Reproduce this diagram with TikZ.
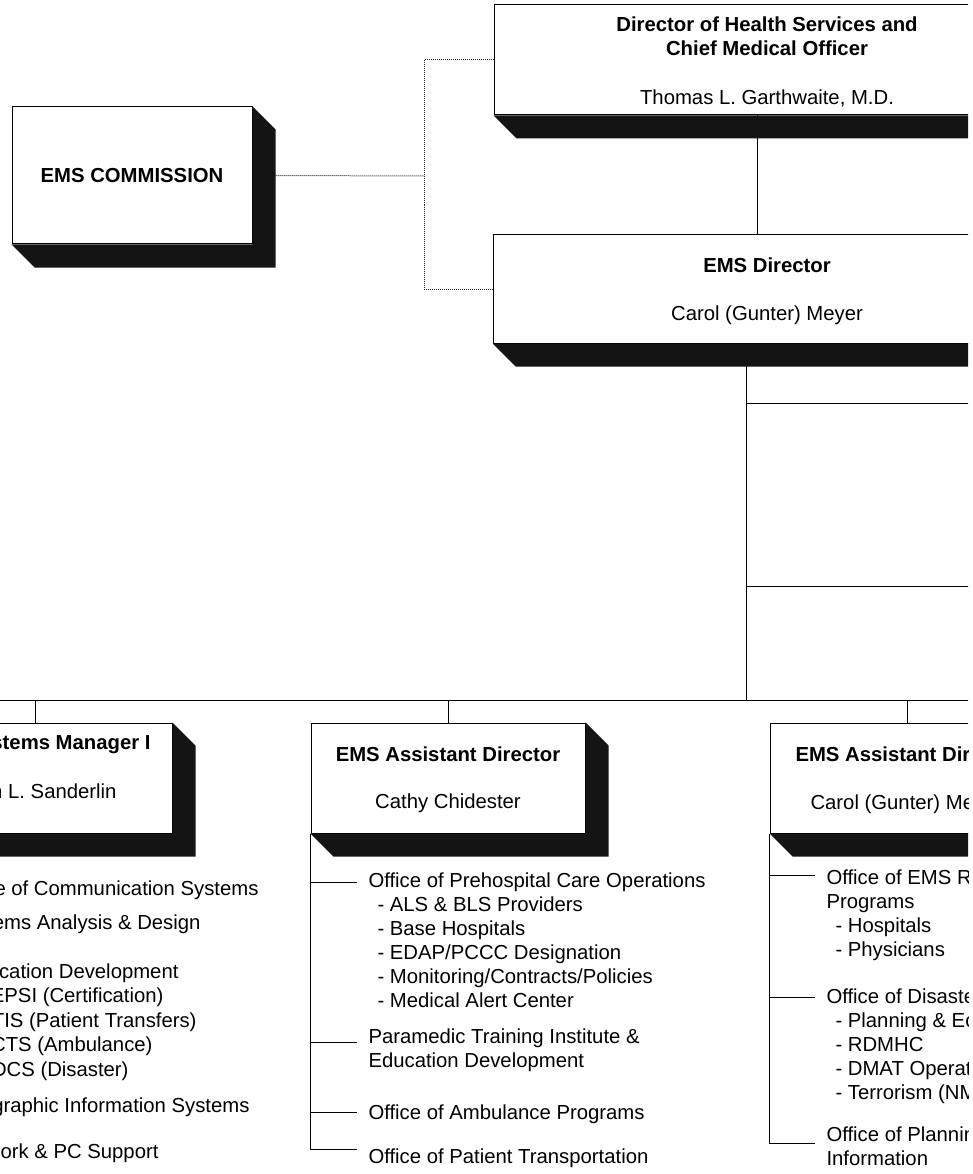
\documentclass[tikz,border=0pt]{standalone}
\usepackage{fontspec}
\setmainfont{Liberation Sans}
\tikzset{every node/.style={inner sep=0pt, font=\fontsize{20.3}{24}\selectfont}}
\tikzset{orgbox/.style={draw, line width=1pt, fill=white, align=center, minimum width=274pt, minimum height=110pt}}
\tikzset{duty/.style={align=left, anchor=north west}}
\tikzset{dotlink/.style={densely dotted, line width=1pt, black!85}}
\tikzset{boxshadow/.style={fill=black!92}}
\newcommand{\dropshadow}[1]{\fill[boxshadow] (#1.south west) -- ++(23,23) -- ([shift={(23,23)}]#1.south east) -- ([shift={(23,23)}]#1.north east) -- (#1.north east) -- (#1.south east) -- cycle;}
\newcommand{\subline}{\hspace*{9pt}- }
\newcommand{\lift}{\rule{0pt}{19pt}}

\begin{document}
\begin{tikzpicture}[x=1pt, y=-1pt, line width=1pt]
\useasboundingbox (0,0) rectangle (972,1174);
\clip (0,0) rectangle (968,1174);

\node[orgbox, minimum width=240pt, minimum height=137pt] (comm) at (132,175.5) {\textbf{EMS COMMISSION}};
\node[orgbox, minimum width=546pt] (dhs) at (767,60) {\lift\textbf{Director of Health Services and}\\\textbf{Chief Medical Officer}\\[25pt]Thomas L. Garthwaite, M.D.};
\node[orgbox, minimum width=548pt, minimum height=108pt] (emsd) at (767,289) {\lift\textbf{EMS Director}\\[24pt]Carol (Gunter) Meyer};
\node[orgbox] (sm) at (35,778) {};
\node[orgbox] (ad1) at (448,778) {\lift\textbf{EMS Assistant Director}\\[23pt]Cathy Chidester};
\node[orgbox] (ad2) at (907,778) {};

\node[anchor=base east] (smtitle) at (151,749) {\textbf{stems Manager I}};
\node[anchor=base east] (smname) at (117,798) {n L. Sanderlin};
\node[anchor=base west] (ad2title) at (795,761) {\textbf{EMS Assistant Dir}};
\node[anchor=base west] (ad2name) at (810,809) {Carol (Gunter) Me};

\node[anchor=base east] (comms) at (259,895) {e of Communication Systems};
\node[anchor=base east] (design) at (201,929) {ems Analysis \& Design};
\node[anchor=base east] (appdev) at (179,978) {cation Development};
\node[anchor=base east] (epsi) at (164,1002) {EPSI (Certification)};
\node[anchor=base east] (tis) at (197,1027) {TIS (Patient Transfers)};
\node[anchor=base east] (cts) at (153,1051) {CTS (Ambulance)};
\node[anchor=base east] (dcs) at (129,1076) {DCS (Disaster)};
\node[anchor=base east] (gis) at (250,1112) {graphic Information Systems};
\node[anchor=base east] (pcs) at (159,1158) {ork \& PC Support};

\node[duty] (care) at (368,872) {Office of Prehospital Care Operations\\\subline ALS \& BLS Providers\\\subline Base Hospitals\\\subline EDAP/PCCC Designation\\\subline Monitoring/Contracts/Policies\\\subline Medical Alert Center};
\node[duty] (pti) at (368,1028) {Paramedic Training Institute \&\\Education Development};
\node[duty] (amb) at (368,1104) {Office of Ambulance Programs};
\node[duty] (trans) at (368,1148) {Office of Patient Transportation};

\node[duty] (hosp) at (826,869) {Office of EMS R\\Programs\\\subline Hospitals\\\subline Physicians};
\node[duty] (dis) at (826,988) {Office of Disaste\\\subline Planning \& Ec\\\subline RDMHC\\\subline DMAT Operat\\\subline Terrorism (NM};
\node[duty] (plan) at (826,1126) {Office of Plannin\\Information};

\coordinate (jn) at (424,176);
\coordinate (hub) at (746,700);
\coordinate (busw) at (0,700);
\coordinate (buse) at (972,700);
\coordinate (r1) at (972,403);
\coordinate (r2) at (972,586);
\coordinate (m1) at (357,882);
\coordinate (m2) at (357,1042);
\coordinate (m3) at (357,1112);
\coordinate (m4) at (357,1149);
\coordinate (g1) at (815,875);
\coordinate (g2) at (815,997);
\coordinate (g3) at (815,1143);

\draw[dotlink] ([xshift=23pt]comm.east) -- (jn);
\draw[dotlink] (dhs.west) -| (jn) |- (emsd.west);
\draw ([xshift=-10pt]dhs.south) -- ([xshift=-10pt]dhs.south |- emsd.north);
\draw (emsd.south -| hub) -- (hub);
\draw (hub |- r1) -- (r1);
\draw (hub |- r2) -- (r2);
\draw (busw) -- (buse);
\draw (sm.north) -- (sm.north |- busw);
\draw (ad1.north) -- (ad1.north |- busw);
\draw (ad2.north) -- (ad2.north |- busw);

\draw (ad1.south west) |- (m4);
\draw (ad1.south west |- m1) -- (m1);
\draw (ad1.south west |- m2) -- (m2);
\draw (ad1.south west |- m3) -- (m3);
\draw (ad2.south west) |- (g3);
\draw (ad2.south west |- g1) -- (g1);
\draw (ad2.south west |- g2) -- (g2);

\dropshadow{comm}
\dropshadow{dhs}
\dropshadow{emsd}
\dropshadow{sm}
\dropshadow{ad1}
\dropshadow{ad2}
\end{tikzpicture}
\end{document}
